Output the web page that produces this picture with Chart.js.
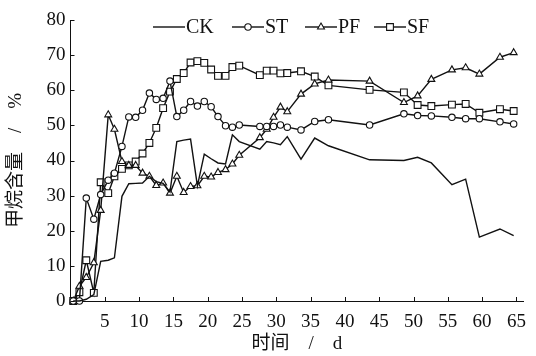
<html lang="zh">
<head>
  <meta charset="UTF-8">
  <title>甲烷含量</title>
  <script src="https://cdn.jsdelivr.net/npm/chart.js"></script>
  <style>
    body { margin: 0; background: #fff; }
    #wrap { width: 536px; height: 356px; }
  </style>
</head>
<body>
  <div id="wrap"><canvas id="ch4Chart"></canvas></div>

  <script>
    // 采样时间 (d)
    const days = [0.4, 1.3, 2.3, 3.4, 4.4, 5.5, 6.4, 7.5, 8.5, 9.5, 10.5, 11.5, 12.5, 13.5,
      14.5, 15.5, 16.5, 17.5, 18.5, 19.5, 20.5, 21.5, 22.6, 23.6, 24.6, 27.6, 28.6, 29.6,
      30.6, 31.6, 33.6, 35.6, 37.6, 43.6, 48.6, 50.6, 52.6, 55.6, 57.6, 59.6, 62.6, 64.6];

    // 甲烷含量 (%)
    const ck = [0, 0, 0.5, 1.8, 11.3, 11.6, 12.3, 29.8, 33.4, 33.5, 33.6, 35.5, 34, 33.5,
      31, 45.4, 45.8, 46.1, 32.8, 41.8, 40.5, 39.3, 39, 47.3, 45.4, 43.2, 45.4, 45.0,
      44.5, 46.8, 40.4, 46.4, 44.2, 40.2, 40.0, 40.9, 39.3, 33.1, 34.7, 18.2, 20.5, 18.6];
    const st = [0, 0, 29.3, 23.3, 30.3, 34.4, 36.4, 44, 52.4, 52.3, 54.3, 59.2, 57.4, 57.7,
      62.6, 52.5, 54.3, 56.8, 55.5, 56.8, 55.3, 52.5, 49.9, 49.5, 50.1, 49.7, 49.7, 49.7,
      50.1, 49.5, 48.7, 51.1, 51.6, 50.1, 53.3, 52.8, 52.7, 52.3, 51.9, 51.9, 51.0, 50.4];
    const pf = [0, 4.2, 6.7, 10.9, 25.8, 53, 48.9, 39.7, 38.6, 38.6, 36.4, 35.5, 32.9, 33.6,
      30.7, 35.5, 30.9, 32.6, 32.8, 35.5, 35.3, 36.6, 37.4, 39, 41.5, 46.5, 48.9, 52.3,
      55.2, 53.9, 58.9, 61.8, 62.9, 62.6, 56.5, 58.4, 63.1, 65.8, 66.4, 64.6, 69.4, 70.7];
    const sf = [0, 2.5, 11.6, 2.3, 33.8, 30.7, 35.5, 37.6, 38.6, 39.7, 42, 45, 49.3, 54.9,
      59.6, 63.2, 64.9, 67.9, 68.3, 67.8, 65.9, 64.1, 64.1, 66.6, 67, 64.3, 65.6, 65.6,
      64.8, 64.9, 65.4, 63.9, 61.4, 60.1, 59.4, 55.8, 55.5, 55.9, 56.1, 53.6, 54.6, 54.1];

    const xTicks = [5, 10, 15, 20, 25, 30, 35, 40, 45, 50, 55, 60, 65];
    const yTicks = [0, 10, 20, 30, 40, 50, 60, 70, 80];

    const serif = '"Liberation Serif", "Noto Sans CJK SC", serif';

    function series(label, values, style, radius) {
      return {
        label: label,
        data: values.map((v, i) => ({ x: days[i], y: v })),
        borderColor: '#111',
        borderWidth: 1.4,
        pointStyle: style,
        pointRadius: radius,
        pointBackgroundColor: '#fff',
        pointBorderColor: '#111',
        pointBorderWidth: 1.1,
        tension: 0,
        clip: false
      };
    }

    // 坐标轴内侧刻度 + 图内图例
    const extras = {
      id: 'extras',
      afterDraw(chart) {
        const ctx = chart.ctx;
        const xs = chart.scales.x, ys = chart.scales.y;
        const a = chart.chartArea;
        ctx.save();
        ctx.strokeStyle = '#111';
        ctx.lineWidth = 1;
        ctx.beginPath();
        xTicks.forEach(t => {
          const px = Math.round(xs.getPixelForValue(t)) + 0.5;
          ctx.moveTo(px, a.bottom);
          ctx.lineTo(px, a.bottom - 4);
        });
        yTicks.forEach(t => {
          const py = Math.round(ys.getPixelForValue(t)) + 0.5;
          ctx.moveTo(a.left, py);
          ctx.lineTo(a.left + 4, py);
        });
        ctx.stroke();

        const lx = [153, 232, 305, 374];
        const ly = 27;
        ctx.font = '20px ' + serif;
        ctx.textBaseline = 'middle';
        chart.data.datasets.forEach((ds, i) => {
          ctx.strokeStyle = '#111';
          ctx.lineWidth = 1.4;
          ctx.beginPath();
          ctx.moveTo(lx[i], ly);
          ctx.lineTo(lx[i] + 32, ly);
          ctx.stroke();
          if (ds.pointRadius > 0) {
            ctx.fillStyle = '#fff';
            ctx.lineWidth = 1.1;
            Chart.helpers.drawPoint(ctx, {
              pointStyle: ds.pointStyle, radius: ds.pointRadius, rotation: 0, borderWidth: 1.1
            }, lx[i] + 16, ly);
          }
          ctx.fillStyle = '#111';
          ctx.fillText(ds.label, lx[i] + 33, ly + 1);
        });
        ctx.restore();
      }
    };

    new Chart(document.getElementById('ch4Chart'), {
      type: 'line',
      data: {
        datasets: [
          series('CK', ck, 'circle', 0),
          series('ST', st, 'circle', 3.2),
          series('PF', pf, 'triangle', 4),
          series('SF', sf, 'rect', 4.8)
        ]
      },
      options: {
        responsive: true,
        maintainAspectRatio: false,
        animation: false,
        layout: { padding: { left: 0, right: 6, top: 20, bottom: 0 } },
        plugins: { legend: { display: false }, tooltip: { enabled: false } },
        scales: {
          x: {
            type: 'linear',
            min: 0,
            max: 66,
            afterFit: s => { s.height = 55; },
            afterBuildTicks: s => { s.ticks = xTicks.map(v => ({ value: v })); },
            grid: { display: false, drawTicks: false },
            border: { display: true, color: '#111', width: 1 },
            ticks: { color: '#111', padding: 10, maxRotation: 0, autoSkip: false, font: { family: serif, size: 19 } },
            title: { display: true, text: '时间　/　d', color: '#111', padding: { top: 0, bottom: 1 }, font: { family: serif, size: 19 } }
          },
          y: {
            min: 0,
            max: 80,
            afterFit: s => { s.width = 70.5; },
            afterBuildTicks: s => { s.ticks = yTicks.map(v => ({ value: v })); },
            grid: { display: false, drawTicks: false },
            border: { display: true, color: '#111', width: 1 },
            ticks: { color: '#111', padding: 5, font: { family: serif, size: 19 } },
            title: { display: true, text: '甲烷含量　/　%', color: '#111', padding: { top: 5, bottom: 0 }, font: { family: serif, size: 19 } }
          }
        }
      },
      plugins: [extras]
    });
  </script>
</body>
</html>
